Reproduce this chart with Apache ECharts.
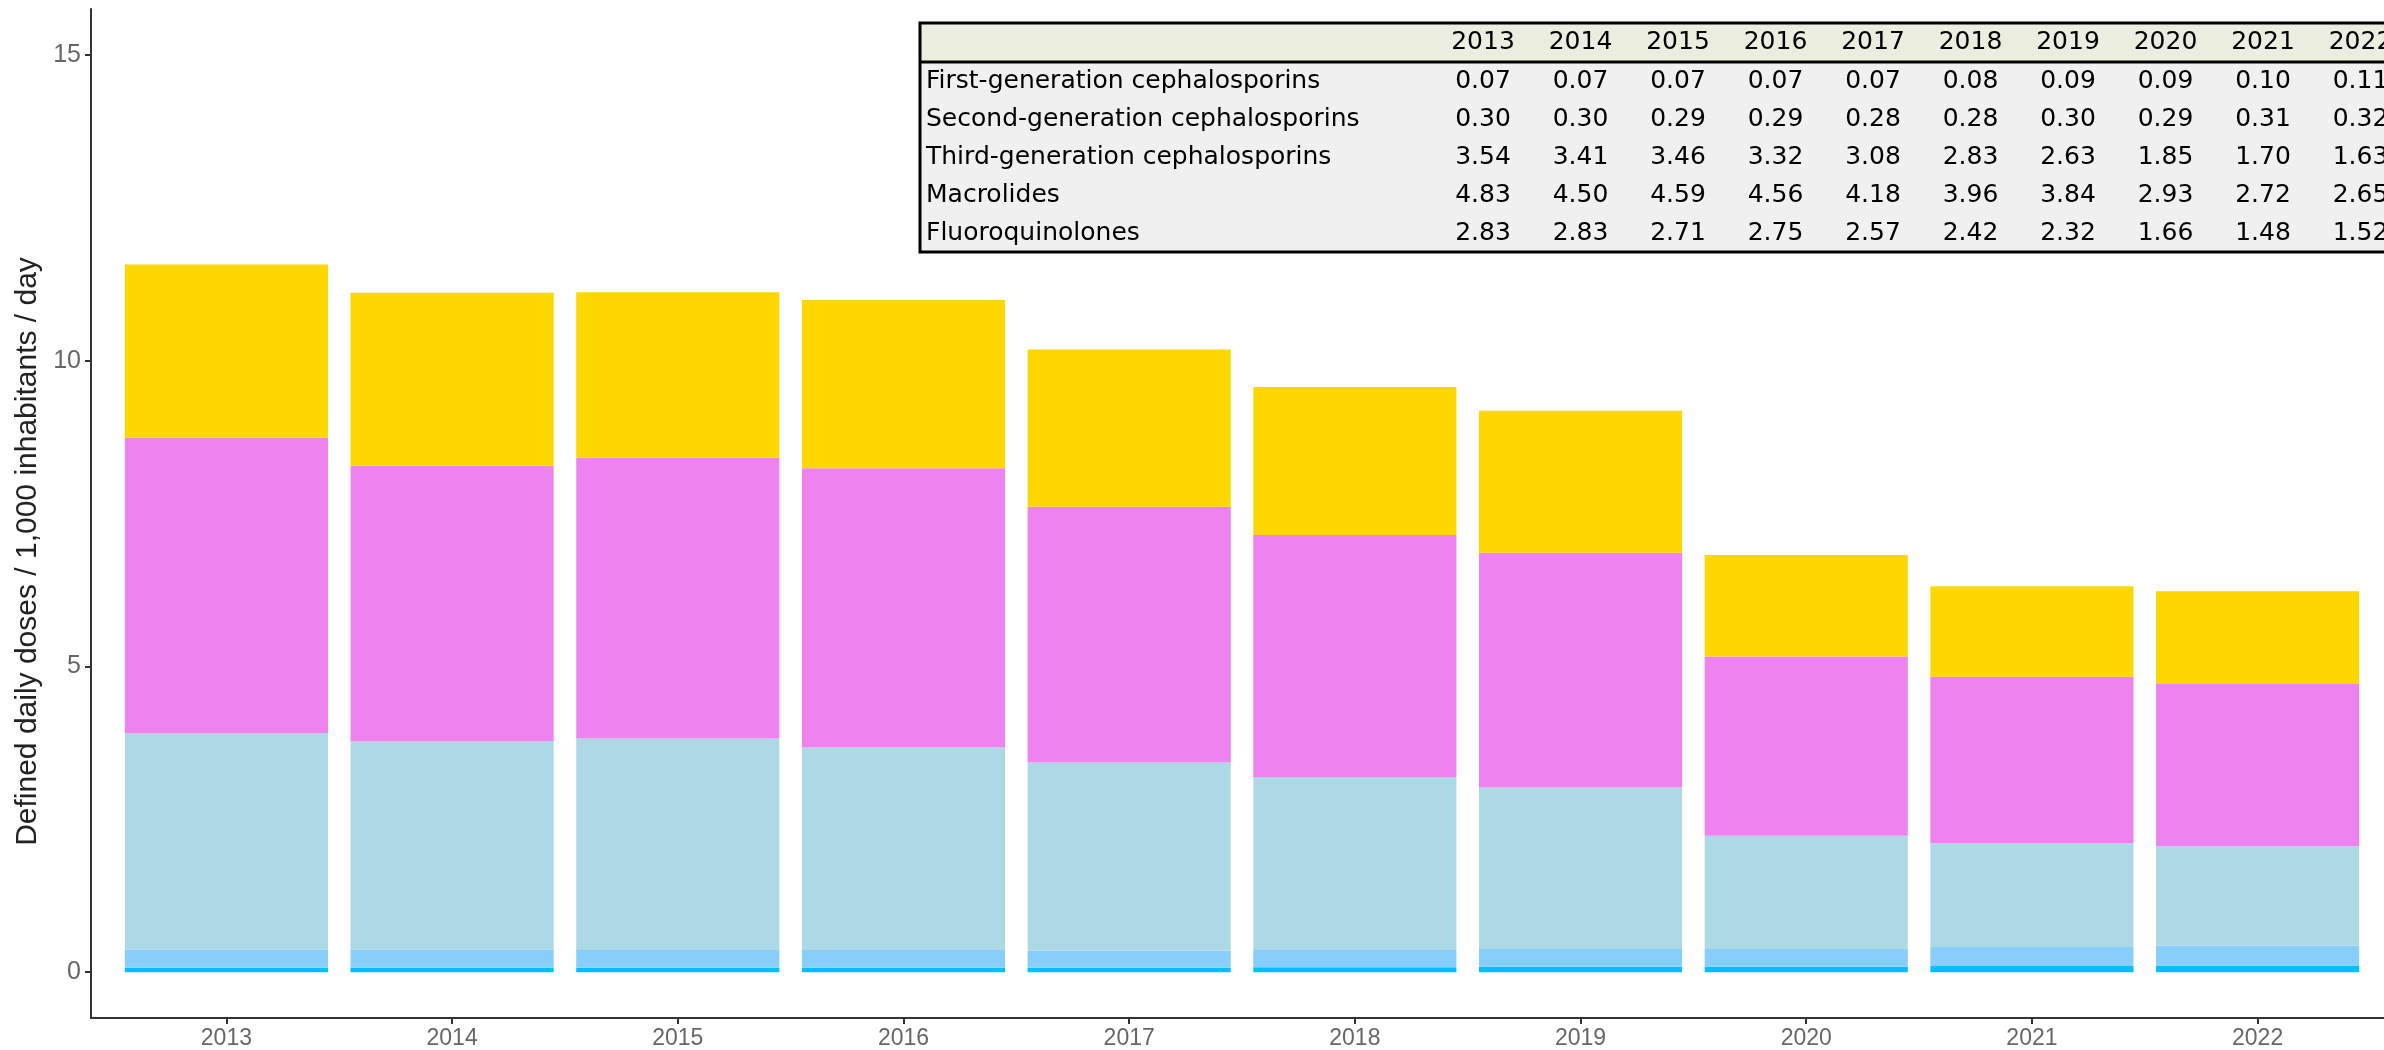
<!DOCTYPE html>
<html>
<head>
<meta charset="utf-8">
<title>Antibiotic use</title>
<script src="https://cdn.jsdelivr.net/npm/echarts@6/dist/echarts.min.js"></script>
<style>
  html, body { margin: 0; padding: 0; background: #fff; }
  #chart { width: 2384px; height: 1050px; }
</style>
</head>
<body>
<div id="chart"></div>
<script>
const years = ['2013', '2014', '2015', '2016', '2017', '2018', '2019', '2020', '2021', '2022']
const firstGen = [0.07, 0.07, 0.07, 0.07, 0.07, 0.08, 0.09, 0.09, 0.10, 0.11]
const secondGen = [0.30, 0.30, 0.29, 0.29, 0.28, 0.28, 0.30, 0.29, 0.31, 0.32]
const thirdGen = [3.54, 3.41, 3.46, 3.32, 3.08, 2.83, 2.63, 1.85, 1.70, 1.63]
const macrolides = [4.83, 4.50, 4.59, 4.56, 4.18, 3.96, 3.84, 2.93, 2.72, 2.65]
const fluoroquinolones = [2.83, 2.83, 2.71, 2.75, 2.57, 2.42, 2.32, 1.66, 1.48, 1.52]
const groupNames = [
  'First-generation cephalosporins',
  'Second-generation cephalosporins',
  'Third-generation cephalosporins',
  'Macrolides',
  'Fluoroquinolones'
]
const yTicks = [0, 5, 10, 15]

const groups = [firstGen, secondGen, thirdGen, macrolides, fluoroquinolones]
const colors = ['#00BFFF', '#87CEFA', '#ADD8E6', '#EE82EE', '#FFD700']
const xPos = years.map((y, i) => i + 1)

const chart = echarts.init(document.getElementById('chart'))

// table in the top right corner (annotation, like the tableGrob in the original)
function buildTable() {
  const left = 920
  const top = 23
  const headH = 39
  const rowH = 38
  const colX0 = 1483
  const colStep = 97.5
  const font = '25px "DejaVu Sans"'
  const els = []
  els.push({ type: 'rect', shape: { x: left, y: top, width: 1600, height: headH }, style: { fill: '#EBEDDE' } })
  els.push({ type: 'rect', shape: { x: left, y: top + headH, width: 1600, height: rowH * groups.length }, style: { fill: '#F0F0F0' } })
  years.forEach((y, i) => {
    els.push({ type: 'text', x: colX0 + i * colStep, y: top + headH / 2, style: { text: y, font: font, fill: '#000', align: 'center', verticalAlign: 'middle' } })
  })
  groupNames.forEach((name, r) => {
    const cy = top + headH + rowH * r + rowH / 2
    els.push({ type: 'text', x: left + 6, y: cy, style: { text: name, font: font, fill: '#000', align: 'left', verticalAlign: 'middle' } })
    groups[r].forEach((v, i) => {
      els.push({ type: 'text', x: colX0 + i * colStep, y: cy, style: { text: v.toFixed(2), font: font, fill: '#000', align: 'center', verticalAlign: 'middle' } })
    })
  })
  els.push({ type: 'rect', shape: { x: left, y: top, width: 1600, height: headH + rowH * groups.length }, style: { fill: null, stroke: '#000', lineWidth: 3 } })
  els.push({ type: 'line', shape: { x1: left, y1: top + headH, x2: 2400, y2: top + headH }, style: { stroke: '#000', lineWidth: 3 } })
  return els
}

chart.setOption({
  animation: false,
  backgroundColor: '#fff',
  grid: { left: 91, right: 0, top: 9, bottom: 32 },
  xAxis: {
    type: 'value',
    min: 0.4,
    max: 10.56,
    splitLine: { show: false },
    axisLine: { onZero: false, lineStyle: { color: '#333', width: 2 } },
    axisTick: { customValues: xPos, length: 6, lineStyle: { color: '#333', width: 2 } },
    axisLabel: {
      customValues: xPos,
      formatter: v => years[v - 1],
      color: '#666',
      fontFamily: 'Liberation Sans',
      fontSize: 23,
      margin: 9
    }
  },
  yAxis: {
    type: 'value',
    min: -0.75,
    max: 15.75,
    name: 'Defined daily doses / 1,000 inhabitants / day',
    nameLocation: 'middle',
    nameGap: 48,
    // right padding pushes the rotated title down a little, as in the original
    nameTextStyle: { color: '#222', fontFamily: 'Liberation Sans', fontSize: 30, padding: [0, 76, 0, 0] },
    splitLine: { show: false },
    axisLine: { show: true, lineStyle: { color: '#333', width: 2 } },
    axisTick: { show: true, customValues: yTicks, length: 6, lineStyle: { color: '#333', width: 2 } },
    axisLabel: { customValues: yTicks, color: '#666', fontFamily: 'Liberation Sans', fontSize: 25, margin: 10 }
  },
  // value first so the stack runs on the y values, x position second
  series: groups.map((vals, k) => ({
    name: groupNames[k],
    type: 'bar',
    stack: 'total',
    barWidth: '90%',
    itemStyle: { color: colors[k] },
    encode: { x: 1, y: 0 },
    data: vals.map((v, i) => [v, xPos[i]])
  })),
  graphic: buildTable()
})
</script>
</body>
</html>
